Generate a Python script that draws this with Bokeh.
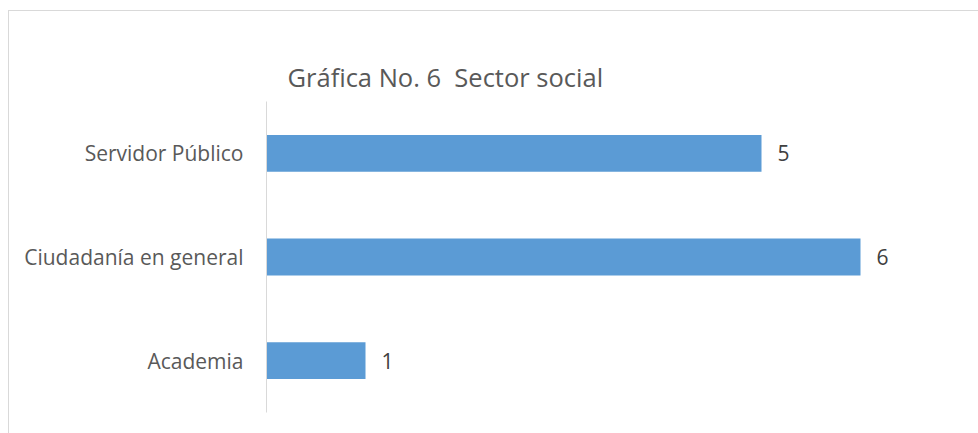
from bokeh.plotting import figure
from bokeh.models import ColumnDataSource, FactorRange, Range1d
from bokeh.core.properties import value
from bokeh.embed import file_html
from bokeh.resources import INLINE

categories = ["Academia", "Ciudadanía en general", "Servidor Público"]
counts = [1, 6, 5]
labels = [str(c) for c in counts]
title_text = "Gráfica No. 6\u00a0 Sector social"

src = ColumnDataSource(dict(cat=categories, val=counts, lab=labels))

p = figure(width=969, height=422, output_backend="svg", toolbar_location=None,
           y_range=FactorRange(factors=categories, range_padding=0),
           x_range=Range1d(0, 7),
           min_border_left=257, min_border_right=19, min_border_top=90, min_border_bottom=21)
p.margin = (11, 0, 0, 9)
p.styles = {"outline": "1px solid #d9d9d9", "outline-offset": "0px"}

p.hbar(y="cat", right="val", left=0, height=0.355, source=src,
       fill_color="#5b9bd5", line_color=None)
p.text(x="val", y="cat", text="lab", source=src, x_offset=16,
       text_font=value("Open Sans"), text_font_size="21px", text_color="#404040",
       text_baseline="middle", text_align="left")

p.title.text = title_text
p.title.text_font = "Open Sans"
p.title.text_font_size = "25.5px"
p.title.text_font_style = "normal"
p.title.text_color = "#595959"
p.title.align = "left"
p.title.offset = 21
p.title.standoff = 15

p.xaxis.visible = False
p.xgrid.visible = False
p.ygrid.visible = False
p.outline_line_color = None
p.yaxis.axis_line_color = "#d9d9d9"
p.yaxis.axis_line_width = 1
p.yaxis.major_tick_line_color = None
p.yaxis.minor_tick_line_color = None
p.yaxis.major_label_text_font = "Open Sans"
p.yaxis.major_label_text_font_size = "21px"
p.yaxis.major_label_text_color = "#595959"
p.yaxis.major_label_standoff = 17
p.background_fill_color = "white"
p.border_fill_color = "white"

open("out.html", "w").write(file_html(p, INLINE))
